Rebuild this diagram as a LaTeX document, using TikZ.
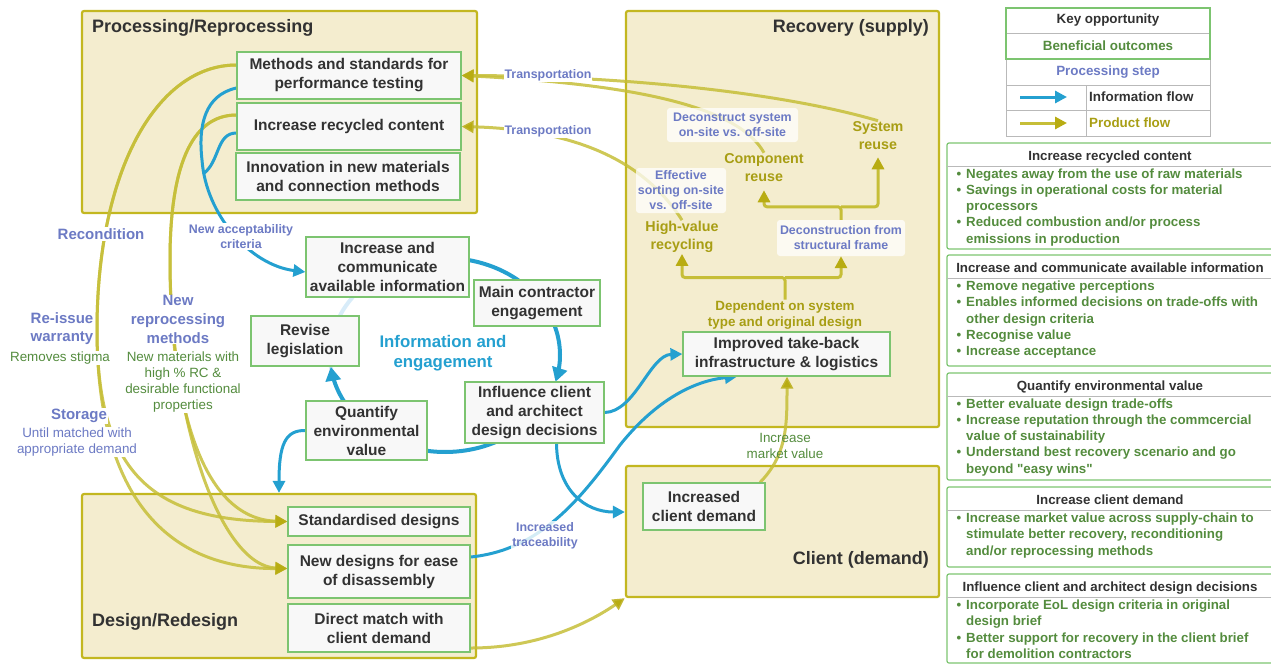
\documentclass[tikz,border=0pt]{standalone}
\usepackage{fontspec}
\setmainfont{Liberation Sans}
\usetikzlibrary{arrows.meta}
\usetikzlibrary{positioning}

\definecolor{zonefill}{RGB}{244,237,207}
\definecolor{zoneline}{RGB}{195,183,32}
\definecolor{boxline}{RGB}{124,196,112}
\definecolor{boxfill}{RGB}{248,248,248}
\definecolor{darktext}{RGB}{50,50,50}
\definecolor{goodgreen}{RGB}{84,140,62}
\definecolor{stepblue}{RGB}{108,122,196}
\definecolor{infoblue}{RGB}{36,160,208}
\definecolor{infolight}{RGB}{216,236,249}
\definecolor{prodline}{RGB}{198,190,56}
\definecolor{prodtip}{RGB}{184,172,18}
\definecolor{prodtext}{RGB}{168,158,20}
\definecolor{gridgray}{RGB}{185,185,185}

\newcommand{\setfs}[2]{\fontsize{#1}{#2}\selectfont}
\newcommand{\bul}{\llap{\textbullet\hspace{5pt}}}

\pgfdeclarelayer{zones}
\pgfdeclarelayer{flows}
\pgfsetlayers{zones,flows,main}

\tikzset{
    zone/.style={draw=zoneline, fill=zonefill, line width=2.2pt, rounded corners=2pt, inner sep=0pt},
    zonetitle/.style={text=darktext, font=\bfseries\setfs{18}{22}, inner sep=0pt},
    keybox/.style={draw=boxline, fill=boxfill, line width=1.2pt, align=center, text=darktext, font=\bfseries\setfs{15.5}{19}, inner sep=0pt},
    info/.style={draw=infoblue, line width=3pt, -{Triangle[length=12pt,width=12pt]}},
    ring/.style={draw=infoblue, line width=4pt, -{Triangle[length=14pt,width=15pt]}},
    prod/.style={draw=prodline, line width=3pt, draw opacity=0.85, -{Triangle[length=12pt,width=12pt,color=prodtip]}},
    prodtree/.style={prod, draw opacity=1, rounded corners=3pt},
    steplbl/.style={text=stepblue, font=\bfseries\setfs{12.4}{15}, align=center, inner sep=1pt},
    sidelbl/.style={text=stepblue, font=\bfseries\setfs{15}{18.7}, align=center, fill=white, inner sep=1pt},
    goodnote/.style={text=goodgreen, font=\setfs{13.4}{16}, align=center, fill=white, inner sep=1pt},
    stepnote/.style={text=stepblue, font=\setfs{13.4}{16}, align=center, fill=white, inner sep=1pt},
    prodlbl/.style={text=prodtext, font=\bfseries\setfs{14.3}{18}, align=center, inner sep=1pt},
    haze/.style={steplbl, fill=white, fill opacity=0.75, text opacity=1, rounded corners=3pt},
    cyclbl/.style={text=infoblue, font=\bfseries\setfs{16.8}{20}, align=center},
    legtext/.style={text=darktext, font=\bfseries\setfs{13.4}{16}, inner sep=0pt},
    outhead/.style={text=darktext, font=\bfseries\setfs{13.3}{16}, anchor=base, inner sep=0pt},
    outtext/.style={text=goodgreen, font=\bfseries\setfs{13.3}{16}, anchor=base west, inner sep=0pt}
}

\begin{document}
\begin{tikzpicture}[x=1pt, y=-1pt]
\useasboundingbox (0,0) rectangle (1271,665);

\begin{pgfonlayer}{zones}
% zones
\node[zone, minimum width=395, minimum height=202] (proc) at (279.5,112) {};
\node[zone, minimum width=313, minimum height=416] (recov) at (782.5,219) {};
\node[zone, minimum width=313, minimum height=131] (client) at (782.5,531.5) {};
\node[zone, minimum width=394, minimum height=164] (design) at (279,576) {};

% legend
\draw[gridgray, line width=1pt] (1006,59) rectangle (1210,136) (1006,85) -- (1210,85)
    (1006,110) -- (1210,110) (1086,85) -- (1086,136) (1006,33) -- (1210,33);
\draw[boxline, line width=1.2pt] (1006,8) rectangle (1210,59);

% outcome panels
\draw[boxline, line width=1.2pt, rounded corners=2pt] (947,143) rectangle (1285,249);
\draw[boxline, line width=1.2pt, rounded corners=2pt] (947,255) rectangle (1285,366);
\draw[boxline, line width=1.2pt, rounded corners=2pt] (947,373) rectangle (1285,480);
\draw[boxline, line width=1.2pt, rounded corners=2pt] (947,487) rectangle (1285,567);
\draw[boxline, line width=1.2pt, rounded corners=2pt] (947,574) rectangle (1285,663);
\foreach \y in {166,278,396,510,597}
    \draw[gridgray, line width=0.8pt] (947,\y) -- (1285,\y);
\end{pgfonlayer}

\node[zonetitle, anchor=west] (proct) at (92,28) {Processing/Reprocessing};
\node[zonetitle, anchor=east] (recovt) at (929,28) {Recovery (supply)};
\node[zonetitle, anchor=east] (clientt) at (929,560) {Client (demand)};
\node[zonetitle, anchor=west] (designt) at (92,622) {Design/Redesign};

\node[legtext] (lkey) at (1108,20) {Key opportunity};
\node[legtext, text=goodgreen] (lgood) at (1108,46) {Beneficial outcomes};
\node[legtext, text=stepblue] (lstep) at (1108,72) {Processing step};
\node[legtext, anchor=west] (linfo) at (1089,97) {Information flow};
\node[legtext, anchor=west, text=prodtext] (lprod) at (1089,123) {Product flow};
\coordinate (linfoa) at (1020,97);
\coordinate (lproda) at (1020,123);
\draw[info] (linfoa) -- ++(47,0);
\draw[prod, draw opacity=1] (lproda) -- ++(47,0);

\foreach \ptop/\phead [count=\k] in {143/Increase recycled content,
    255/Increase and communicate available information,
    373/Quantify environmental value,
    487/Increase client demand,
    574/Influence client and architect design decisions} {
    \node[outhead] (head\k) at (1110,\ptop+17.5) {\phead};
}
\foreach \txt [count=\i] in {{\bul Negates away from the use of raw materials},
    {\bul Savings in operational costs for material}, {processors},
    {\bul Reduced combustion and/or process}, {emissions in production}}
    \node[outtext] (ga\i) at (966,161.75+16.25*\i) {\txt};
\foreach \txt [count=\i] in {{\bul Remove negative perceptions},
    {\bul Enables informed decisions on trade-offs with}, {other design criteria},
    {\bul Recognise value}, {\bul Increase acceptance}}
    \node[outtext] (gb\i) at (966,274.25+16.25*\i) {\txt};
\foreach \txt [count=\i] in {{\bul Better evaluate design trade-offs},
    {\bul Increase reputation through the commcercial}, {value of sustainability},
    {\bul Understand best recovery scenario and go}, {beyond \textquotedbl easy wins\textquotedbl}}
    \node[outtext] (gc\i) at (966,391.75+16.25*\i) {\txt};
\foreach \txt [count=\i] in {{\bul Increase market value across supply-chain to},
    {stimulate better recovery, reconditioning}, {and/or reprocessing methods}}
    \node[outtext] (gd\i) at (966,506.25+16.25*\i) {\txt};
\foreach \txt [count=\i] in {{\bul Incorporate EoL design criteria in original},
    {design brief}, {\bul Better support for recovery in the client brief},
    {for demolition contractors}}
    \node[outtext] (ge\i) at (966,593.25+16.25*\i) {\txt};

% key opportunities
\node[keybox, minimum width=224, minimum height=47] (methods) at (349,75.5) {Methods and standards for\\performance testing};
\node[keybox, minimum width=224, minimum height=47] (recycled) at (349,126.5) {Increase recycled content};
\node[keybox, minimum width=224, minimum height=47] (innov) at (348,176.5) {Innovation in new materials\\and connection methods};
\node[keybox, minimum width=182, minimum height=29] (stdd) at (379,521.5) {Standardised designs};
\node[keybox, minimum width=182, minimum height=53] (newdes) at (379,571.5) {New designs for ease\\of disassembly};
\node[keybox, minimum width=182, minimum height=48] (direct) at (379,628) {Direct match with\\client demand};
\node[keybox, minimum width=163, minimum height=60] (incinfo) at (387.5,267) {Increase and\\communicate\\available information};
\node[keybox, minimum width=126, minimum height=46] (mainc) at (537,303) {Main contractor\\engagement};
\node[keybox, minimum width=108, minimum height=50] (revise) at (305,341) {Revise\\legislation};
\node[keybox, minimum width=121, minimum height=59] (quant) at (366.5,430.5) {Quantify\\environmental\\value};
\node[keybox, minimum width=139, minimum height=61] (influ) at (534.5,412.5) {Influence client\\and architect\\design decisions};
\node[keybox, minimum width=207, minimum height=44] (takeback) at (786.5,354) {Improved take-back\\infrastructure \& logistics};
\node[keybox, minimum width=122, minimum height=47] (incdem) at (704,506.5) {Increased\\client demand};

% recovery texts
\node[prodlbl] (sysreuse) at (878,136) {System\\reuse};
\node[prodlbl] (compreuse) at (764,168) {Component\\reuse};
\node[prodlbl] (hvrec) at (682,237) {High-value\\recycling};
\node[prodlbl, font=\bfseries\setfs{13.4}{16}] (depend) at (785,315) {Dependent on system\\type and original design};
\node[goodnote, fill=none] (mktval) at (785,446) {Increase\\market value};
\node[cyclbl] (cyc) at (443,353) {Information and\\engagement};

% processing steps
\node[haze, minimum width=131, minimum height=34] (deconsys) at (732.5,125) {Deconstruct system\\on-site vs. off-site};
\node[haze, minimum width=90, minimum height=45] (effsort) at (681,190.5) {Effective\\sorting on-site\\vs. off-site};
\node[haze, minimum width=128, minimum height=36] (decon) at (841,238) {Deconstruction from\\structural frame};
\node[steplbl, fill=white] (trans1) at (548,75) {Transportation};
\node[steplbl, fill=white] (trans2) at (548,131) {Transportation};
\node[steplbl, fill=white] (accept) at (241,236.5) {New acceptability\\criteria};
\node[steplbl, fill=white, fill opacity=0.8, text opacity=1] (trace) at (545,535.5) {Increased\\traceability};
\node[sidelbl] (recond) at (101,234) {Recondition};
\node[sidelbl] (reissue) at (62,328.5) {Re-issue\\warranty};
\node[goodnote] (stigma) at (60,358) {Removes stigma};
\node[sidelbl] (storage) at (79,416) {Storage};
\node[stepnote] (untilm) at (77,442) {Until matched with\\appropriate demand};
\node[sidelbl] (newrep) at (178,319.5) {New\\reprocessing\\methods};
\node[goodnote] (newmat) at (183,382) {New materials with\\high \% RC \&\\desirable functional\\properties};

\begin{pgfonlayer}{flows}
% information and engagement cycle
\draw[infolight, line width=4pt] plot[domain=170:282, samples=40] ({445+115*cos(\x)}, {355+97*sin(\x)});
\draw[ring] plot[domain=276:376, samples=50] ({445+115*cos(\x)}, {355+97*sin(\x)});
\draw[ring] plot[domain=28:173, samples=60] ({445+115*cos(\x)}, {355+97*sin(\x)});

% product flow
\draw[prod] ([yshift=10.5pt]methods.west) .. controls (157,65) and (97,170) .. (97,330)
    .. controls (97,470) and (150,521) .. (stdd.west);
\draw[prod] ([yshift=10.5pt]methods.west) .. controls (157,65) and (97,170) .. (97,330)
    .. controls (97,500) and (170,569) .. ([yshift=3pt]newdes.west);
\draw[prod] ([yshift=11.5pt]recycled.west) .. controls (190,115) and (170,170) .. (170,260)
    .. controls (170,400) and (200,519) .. (stdd.west);
\draw[prod] ([yshift=11.5pt]recycled.west) .. controls (190,115) and (170,170) .. (170,260)
    .. controls (170,420) and (220,566) .. ([yshift=3pt]newdes.west);
\draw[prod] (sysreuse.north) .. controls (780,92) and (620,76) .. (methods.east);
\draw[prod] (compreuse.north) .. controls (740,110) and (650,85) .. (methods.east);
\draw[prod] (hvrec.north) .. controls (650,170) and (590,130) .. (recycled.east);
\draw[prod] ([yshift=-20pt]direct.east) .. controls (540,648) and (590,622) .. (client.south west);
\draw[prod] ([xshift=56pt]incdem.north) .. controls (787,455) and (787,425) .. ([xshift=0.5pt]takeback.south);
\draw[prodtree] (depend.north) -- ++(0,-22) coordinate (fork1) -| (hvrec.south);
\draw[prodtree] (fork1) -| (decon.south);
\draw[prodtree] (decon.north) -- ++(0,-13) coordinate (fork2) -| ([yshift=-7pt]compreuse.south);
\draw[prodtree] (fork2) -| ([yshift=-6pt]sysreuse.south);

% information flow
\draw[info] ([yshift=-12.5pt]methods.west) .. controls (205,95) and (198,125) .. (202,160)
    .. controls (206,215) and (250,265) .. ([yshift=-5pt]incinfo.west);
\draw[draw=infoblue, line width=3pt] ([yshift=-6.5pt]recycled.west) .. controls (216,133) and (220,162) .. (203,174);
\draw[info] (quant.west) .. controls (285,430) and (279,445) .. (279,0 |- design.north);
\draw[info] (influ.east) .. controls (635,412) and (650,355) .. (takeback.west);
\draw[info] ([xshift=22pt]influ.south) .. controls (557,490) and (585,512) .. ([yshift=19.5pt]client.west);
\draw[info] ([yshift=14.5pt]newdes.east) .. controls (540,550) and (580,500) .. (620,445)
    .. controls (660,395) and (700,380) .. ([xshift=-49.5pt]takeback.south);
\end{pgfonlayer}
\end{tikzpicture}
\end{document}
